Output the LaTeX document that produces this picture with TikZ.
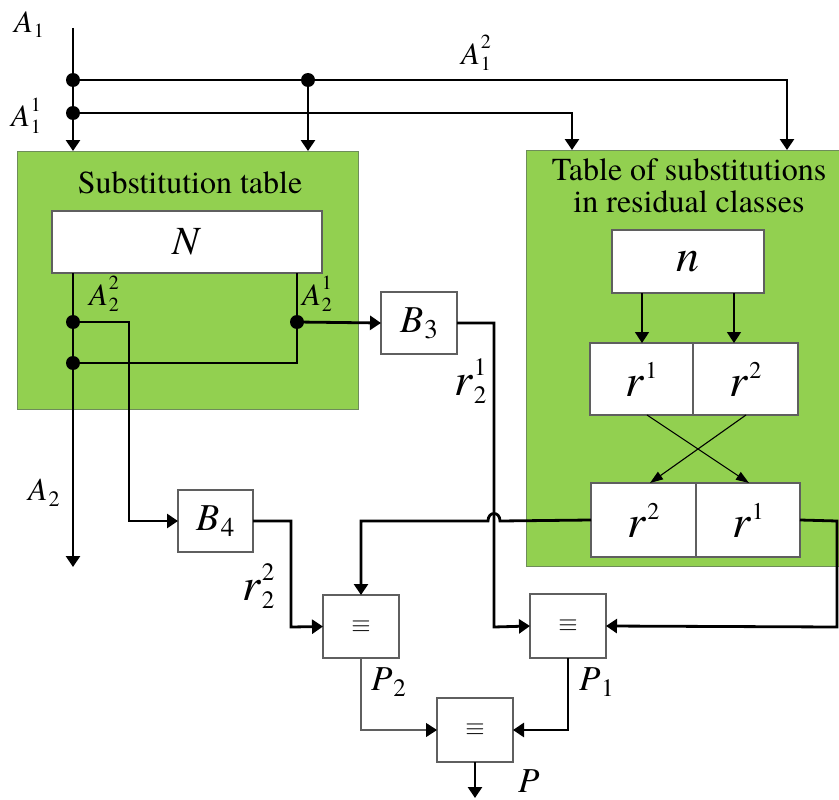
\documentclass[tikz,border=0pt]{standalone}
\usepackage{fontspec}
\setmainfont{texgyretermes}[Extension=.otf,UprightFont=*-regular,ItalicFont=*-italic,BoldFont=*-bold,BoldItalicFont=*-bolditalic]
\usetikzlibrary{arrows.meta,calc}
\definecolor{tabgreen}{RGB}{146,208,80}
\definecolor{boxgray}{RGB}{95,95,95}
\definecolor{edgegreen}{RGB}{110,140,90}
% #1 size, #2 letter, #3 sub, #4 sup, #5 script size, #6 raise, #7 lower
\newcommand\lab[7]{\mbox{\fontsize{#1}{#1}\selectfont\textit{#2}\fontsize{#5}{#5}\selectfont\kern1pt\rlap{\raisebox{#6pt}{#4}}\rlap{\raisebox{-#7pt}{#3}}\hphantom{0}}}
\newcommand\eqv{{\fontsize{26}{26}\selectfont$\equiv$}}
\begin{document}
\begin{tikzpicture}[x=1pt,y=-1pt,
  every node/.style={inner sep=0pt,outer sep=0pt},
  greenbox/.style={rectangle,draw=edgegreen,line width=0.8pt,fill=tabgreen},
  wbox/.style={rectangle,draw=boxgray,line width=1.3pt,fill=white},
  wire/.style={line width=2.8pt},
  thinwire/.style={line width=1.1pt},
  midwire/.style={line width=1.7pt},
  arr/.style={-{Triangle[length=11pt,width=14pt,color=black]}},
  xarr/.style={-{Triangle[length=13pt,width=9pt]}},
  dot/.style={circle,fill=black,minimum size=14pt},
  lbl/.style={anchor=base west},
  title/.style={anchor=base,font=\fontsize{32}{32}\selectfont}]
\useasboundingbox (0,0) rectangle (839,800);

% green tables
\node[greenbox,minimum width=341pt,minimum height=258pt] (subT) at (187.5,280) {};
\node[greenbox,minimum width=313pt,minimum height=416pt] (resT) at (682.5,358) {};
\node[title] (subTt) at (190,193) {Substitution table};
\node[title] (resTt1) at (689,180) {Table of substitutions};
\node[title] (resTt2) at (689,212) {in residual classes};

% coordinates
\coordinate (a1top) at (73,28);
\coordinate (d1) at (73,80);
\coordinate (d2) at (308,80);
\coordinate (d3) at (73,113);
\coordinate (d4) at (73,322);
\coordinate (d5) at (297,322);
\coordinate (d6) at (73,363);
\coordinate (c787) at (787,80);
\coordinate (c572) at (572,113);
\coordinate (n297) at (297,273);
\coordinate (n73) at (73,273);
\coordinate (a2end) at (73,567);
\coordinate (c129) at (129,322);
\coordinate (b3c) at (494,323);
\coordinate (b3d) at (494,627);
\coordinate (b4c) at (291,521);
\coordinate (b4d) at (291,627);
\coordinate (hopR) at (500,521);
\coordinate (hopL) at (488,521);
\coordinate (r2c) at (361,521);
\coordinate (r1c) at (837,521);
\coordinate (r1d) at (837,627);
\coordinate (p2c) at (361,730);
\coordinate (p1c) at (568,730);
\coordinate (pend) at (475,798);

% white boxes
\node[wbox,minimum width=270pt,minimum height=62pt] (N) at (187,242) {\fontsize{40}{40}\selectfont\textit{N}};
\node[wbox,minimum width=152pt,minimum height=63pt] (n) at (688,261.5) {\fontsize{46}{46}\selectfont\textit{n}};
\node[wbox,minimum width=103pt,minimum height=72pt] (r1a) at (641.5,379) {\lab{46}{r}{}{1}{24}{18}{0}};
\node[wbox,minimum width=105pt,minimum height=72pt] (r2a) at (745.5,379) {\lab{46}{r}{}{2}{24}{18}{0}};
\node[wbox,minimum width=105pt,minimum height=74pt] (r2b) at (643.5,520) {\lab{46}{r}{}{2}{24}{18}{0}};
\node[wbox,minimum width=104pt,minimum height=74pt] (r1b) at (748,520) {\lab{46}{r}{}{1}{24}{18}{0}};
\node[wbox,minimum width=76pt,minimum height=62pt] (B3) at (419,323) {\lab{38}{B}{3}{}{27}{0}{6}};
\node[wbox,minimum width=75pt,minimum height=62pt] (B4) at (215.5,521) {\lab{38}{B}{4}{}{27}{0}{6}};
\node[wbox,minimum width=76pt,minimum height=63pt] (P2b) at (361,626.5) {\eqv};
\node[wbox,minimum width=76pt,minimum height=64pt] (P1b) at (568,626) {\eqv};
\node[wbox,minimum width=76pt,minimum height=64pt] (Fb) at (475,730) {\eqv};

% wires
\draw[wire,arr] (a1top) -- (d1) -- (d3) -- (d3 |- subT.north);
\draw[wire,arr] (d1) -- (c787) -- (c787 |- resT.north);
\draw[wire,arr] (d2) -- (d2 |- subT.north);
\draw[wire,arr] (d3) -- (c572) -- (c572 |- resT.north);
\draw[wire,arr] (n73) -- (a2end);
\draw[wire] (n297) -- (297,363) -- (d6);
\draw[wire,arr] (d4) -- (c129) -- (c129 |- B4.west) -- (B4.west);
\draw[wire,arr] (d5) -- (B3.west);
\draw[wire,arr] (B3.east) -- (b3c) -- (b3d) -- (P1b.west);
\draw[wire,arr] (B4.east) -- (b4c) -- (b4d) -- (P2b.west);
\draw[wire,arr] (r2b.west) -- (hopR) .. controls (500,511) and (488,511) .. (hopL) -- (r2c) -- (P2b.north);
\draw[wire,arr] (r1b.east) -- (r1c) -- (r1d) -- (P1b.east);
\draw[thinwire,draw=boxgray,arr] (P2b.south) -- (p2c) -- (Fb.west);
\draw[wire,arr] (P1b.south) -- (p1c) -- (Fb.east);
\draw[wire,arr] (Fb.south) -- (pend);
\draw[midwire,arr] (n.south -| 642,0) -- (r1a.north -| 642,0);
\draw[midwire,arr] (n.south -| 734,0) -- (r2a.north -| 734,0);
\draw[thinwire,xarr] (r1a.south -| 647,0) -- (r1b.north -| 749,0);
\draw[thinwire,xarr] (r2a.south -| 746,0) -- (r2b.north -| 650,0);

% dots
\foreach \d in {d1,d2,d3,d4,d5,d6} \node[dot] at (\d) {};

% labels
\node[lbl] (lA1) at (14,33) {\lab{31}{A}{1}{}{20}{0}{5}};
\node[lbl] (lA11) at (11,127) {\lab{31}{A}{1}{1}{20}{16}{6}};
\node[lbl] (lA12) at (461,65) {\lab{31}{A}{1}{2}{20}{16}{6}};
\node[lbl] (lA22) at (89,305) {\lab{31}{A}{2}{2}{20}{16}{6}};
\node[lbl] (lA21) at (302,305) {\lab{31}{A}{2}{1}{20}{16}{6}};
\node[lbl] (lA2) at (28,500) {\lab{32}{A}{2}{}{22}{0}{6}};
\node[lbl] (lr21) at (454,395) {\lab{46}{r}{2}{1}{25}{20}{8}};
\node[lbl] (lr22) at (242,600) {\lab{46}{r}{2}{2}{25}{20}{8}};
\node[lbl] (lP2) at (371,690) {\lab{35}{P}{2}{}{25}{0}{6}};
\node[lbl] (lP1) at (579,690) {\lab{35}{P}{1}{}{25}{0}{6}};
\node[lbl] (lP) at (518,792) {\lab{35}{P}{}{}{25}{0}{0}};
\end{tikzpicture}
\end{document}
